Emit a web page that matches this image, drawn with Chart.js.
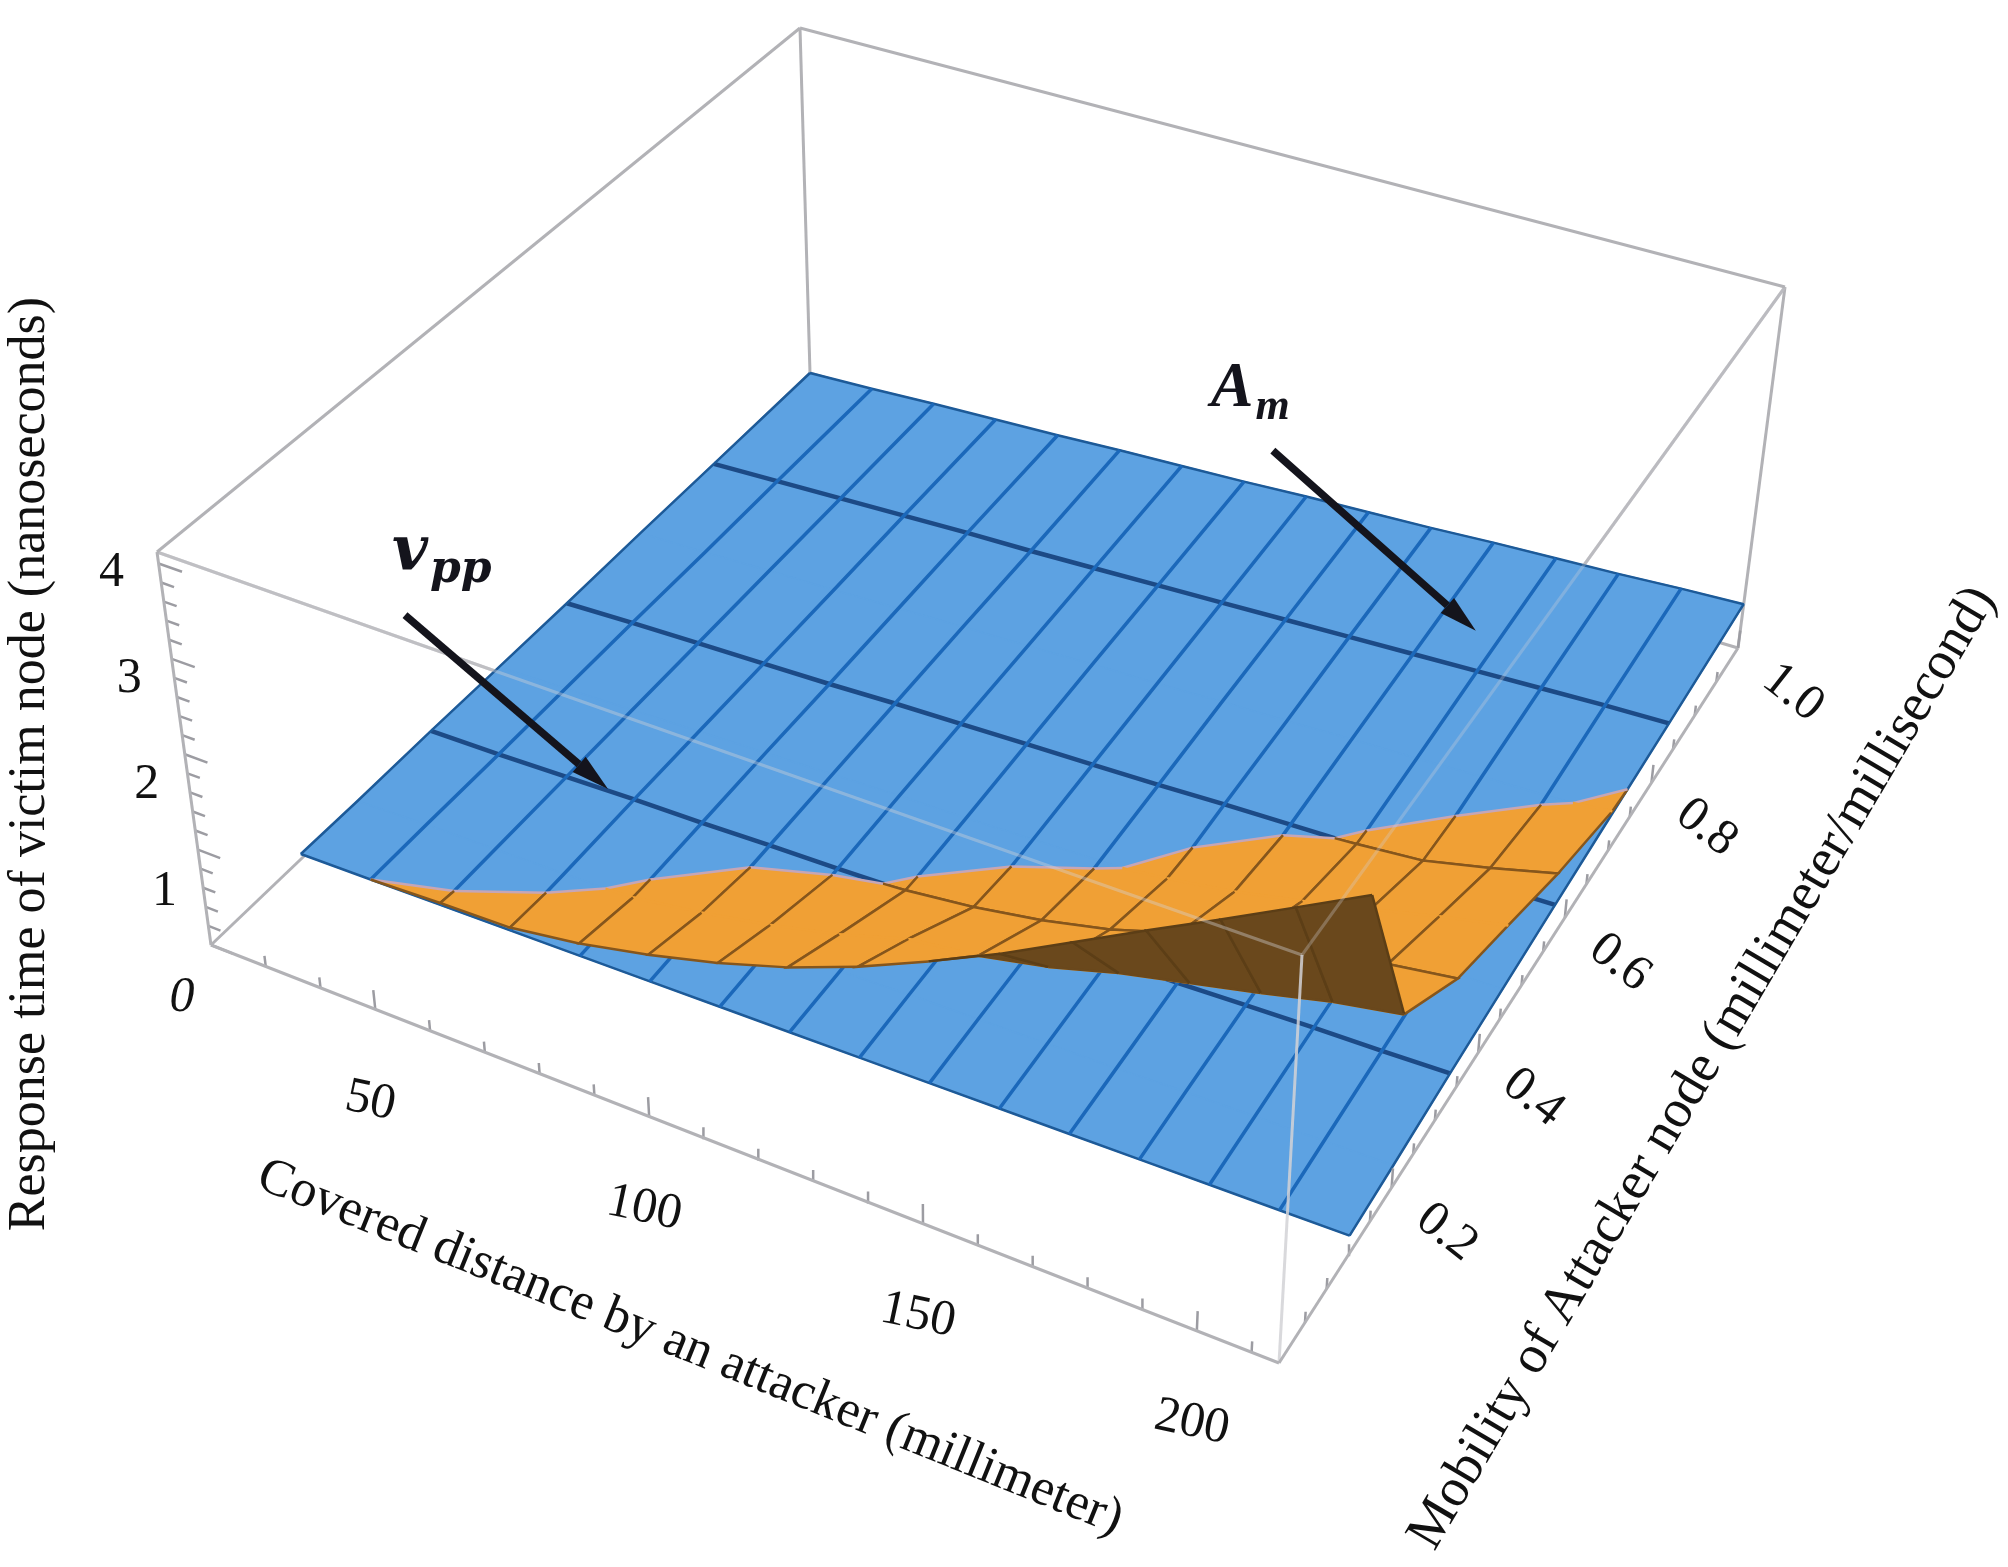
<!DOCTYPE html>
<html>
<head>
<meta charset="utf-8">
<title>Response time of victim node</title>
<script src="https://cdn.jsdelivr.net/npm/chart.js@4.4.1/dist/chart.umd.min.js"></script>
<style>
  html, body { margin: 0; padding: 0; background: #fff; }
  #wrap { position: relative; width: 2008px; height: 1567px; }
</style>
</head>
<body>
<div id="wrap"><canvas id="chart" width="2008" height="1567"></canvas></div>
<script>
// surface grid: covered distance (mm) across, mobility (mm/ms) deep
const distance = [20, 33, 46, 59, 72, 85, 98, 111, 124, 137, 150, 163, 176, 189, 202, 215];
const mobility = [0.1, 0.2, 0.33, 0.45, 0.57, 0.7, 0.83, 1.0];

// v_pp response time (ns), one row per mobility value
const vpp = [
  [0.05, 0.06, 0.07, 0.08, 0.09, 0.10, 0.11, 0.12, 0.13, 0.14, 0.15, 0.16, 0.17, 0.18, 0.19, 0.20],
  [0.04, 0.06, 0.07, 0.08, 0.09, 0.11, 0.12, 0.13, 0.15, 0.16, 0.17, 0.18, 0.20, 0.21, 0.22, 0.23],
  [0.04, 0.05, 0.07, 0.09, 0.10, 0.12, 0.13, 0.15, 0.17, 0.18, 0.20, 0.21, 0.23, 0.25, 0.26, 0.28],
  [0.03, 0.05, 0.07, 0.09, 0.11, 0.13, 0.15, 0.16, 0.18, 0.20, 0.22, 0.24, 0.26, 0.28, 0.30, 0.32],
  [0.02, 0.05, 0.07, 0.09, 0.11, 0.14, 0.16, 0.18, 0.20, 0.22, 0.25, 0.27, 0.29, 0.31, 0.34, 0.36],
  [0.02, 0.04, 0.07, 0.09, 0.12, 0.15, 0.17, 0.20, 0.22, 0.25, 0.27, 0.30, 0.32, 0.35, 0.37, 0.40],
  [0.01, 0.04, 0.07, 0.10, 0.13, 0.15, 0.18, 0.21, 0.24, 0.27, 0.30, 0.33, 0.36, 0.39, 0.42, 0.44],
  [0.00, 0.03, 0.07, 0.10, 0.13, 0.17, 0.20, 0.23, 0.27, 0.30, 0.33, 0.37, 0.40, 0.43, 0.47, 0.50]
];

// A_m response time (ns), null where the sheet is not shown
const am = [
  [null, 0.06, 0.09, 0.11, 0.22, 0.38, 0.57, 0.80, 1.08, 1.41, 1.76, 2.15, 2.54, 2.92, 3.31, 3.70],
  [null, 0.03, 0.01, 0.065, 0.10, 0.21, 0.35, 0.52, 0.74, 0.83, 0.98, 1.18, 1.34, 1.50, 1.67, 1.80],
  [null, null, null, null, 0.07, 0.08, 0.11, 0.16, 0.24, 0.36, 0.52, 0.74, 0.93, 1.08, 1.18, 1.28],
  [null, null, null, null, null, null, null, 0.12, 0.14, 0.18, 0.26, 0.37, 0.52, 0.68, 0.85, 1.00],
  [null, null, null, null, null, null, null, null, null, 0.17, 0.20, 0.25, 0.30, 0.36, 0.52, 0.70],
  [null, null, null, null, null, null, null, null, null, null, null, 0.25, 0.27, 0.31, 0.35, 0.43],
  [null, null, null, null, null, null, null, null, null, null, null, null, null, null, null, 0.36],
  [null, null, null, null, null, null, null, null, null, null, null, null, null, null, null, null]
];

const meshMobility = [0.33, 0.57, 0.83];
const distanceTicks = [50, 100, 150, 200];
const mobilityTicks = [0.2, 0.4, 0.6, 0.8, 1.0];
const timeTicks = [0, 1, 2, 3, 4];

// plot box ranges and where its corners sit on the page (bottom, top)
const box = { x: [20, 215], y: [-0.06, 1.0], z: [0, 4.12] };
const view = {
  L: [[211, 945], [157, 552]],
  F: [[1279, 1363], [1302, 955]],
  R: [[1738, 648], [1785, 287]],
  B: [[810, 373], [800, 28]]
};

const BLUE = '#5da2e2';
const ORANGE = '#f0a035';
const BROWN = '#6a481c';
const EDGE = '#b2b2b6';

function project(x, y, z) {
  const u = (x - box.x[0]) / (box.x[1] - box.x[0]);
  const v = (y - box.y[0]) / (box.y[1] - box.y[0]);
  const w = (z - box.z[0]) / (box.z[1] - box.z[0]);
  const k = [(1 - u) * (1 - v), u * (1 - v), u * v, (1 - u) * v];
  const cs = [view.L, view.F, view.R, view.B];
  let bx = 0, by = 0, tx = 0, ty = 0;
  cs.forEach((c, i) => {
    bx += k[i] * c[0][0]; by += k[i] * c[0][1];
    tx += k[i] * c[1][0]; ty += k[i] * c[1][1];
  });
  return { x: bx + w * (tx - bx), y: by + w * (ty - by) };
}

const datasets = [];
function line(points, color, width, order) {
  datasets.push({ data: points, showLine: true, borderColor: color, borderWidth: width,
    pointRadius: 0, fill: false, tension: 0, order });
}
function poly(points, fillColor, order, edgeColors, width) {
  datasets.push({ data: points.concat([points[0]]), showLine: true, pointRadius: 0,
    fill: false, tension: 0, order, surfaceColor: fillColor, borderColor: fillColor,
    borderWidth: width, segment: { borderColor: c => edgeColors[c.p0DataIndex] } });
}
function area(pts) {
  let s = 0;
  pts.forEach((p, i) => { const q = pts[(i + 1) % pts.length]; s += p.x * q.y - q.x * p.y; });
  return s / 2;
}

// box edges behind the surfaces
const corner = (cx, cy, cz) => project(box.x[cx], box.y[cy], box.z[cz]);
[[[0,1,0],[0,1,1]], [[0,0,0],[0,1,0]], [[0,1,0],[1,1,0]], [[1,1,0],[1,1,1]],
 [[0,0,1],[1,0,1]], [[1,0,1],[1,1,1]]].forEach(([a, b]) =>
  line([corner(...a), corner(...b)], EDGE, 3, 30000));

// v_pp sheet
for (let j = 0; j < mobility.length - 1; j++) {
  for (let i = 0; i < distance.length - 1; i++) {
    const pts = [[i, j], [i + 1, j], [i + 1, j + 1], [i, j + 1]]
      .map(([a, b]) => project(distance[a], mobility[b], vpp[b][a]));
    poly(pts, BLUE, 20000, [BLUE, BLUE, BLUE, BLUE], 1.5);
  }
}
distance.forEach((d, i) => {
  const pts = mobility.map((m, j) => project(d, m, vpp[j][i]));
  const edge = i === 0 || i === distance.length - 1;
  line(pts, edge ? '#1d5a98' : '#1b68ba', edge ? 2.5 : 3.5, 5000);
});
mobility.forEach((m, j) => {
  const pts = distance.map((d, i) => project(d, m, vpp[j][i]));
  if (meshMobility.includes(m)) line(pts, '#1c4a86', 4.5, 5000);
  else if (j === 0 || j === mobility.length - 1) line(pts, '#1d5a98', 2.5, 5000);
});

// A_m sheet, kept only where it rises above v_pp
for (let j = 0; j < mobility.length - 1; j++) {
  for (let i = 0; i < distance.length - 1; i++) {
    const cs = [[i, j], [i + 1, j], [i + 1, j + 1], [i, j + 1]];
    const tags = [{ k: 'y', j }, { k: 'x' }, { k: 'y', j: j + 1 }, { k: 'x' }];
    const ring = [];
    cs.forEach(([a, b], n) => {
      const zo = am[b][a];
      if (zo === null) return;
      ring.push({ x: distance[a], y: mobility[b], z: zo, d: zo - vpp[b][a], n });
    });
    if (ring.length < 3) continue;
    ring.forEach((r, k) => {
      const nx = ring[(k + 1) % ring.length];
      r.tag = (r.n + 1) % 4 === nx.n ? tags[r.n] : { k: 'diag' };
    });
    const out = [];
    ring.forEach((cur, k) => {
      const nxt = ring[(k + 1) % ring.length];
      const cut = () => {
        const t = cur.d / (cur.d - nxt.d);
        return { x: cur.x + t * (nxt.x - cur.x), y: cur.y + t * (nxt.y - cur.y), z: cur.z + t * (nxt.z - cur.z) };
      };
      if (cur.d >= 0 && nxt.d >= 0) out.push({ x: nxt.x, y: nxt.y, z: nxt.z, tagIn: cur.tag });
      else if (cur.d >= 0) out.push(Object.assign(cut(), { tagIn: cur.tag }));
      else if (nxt.d >= 0) {
        out.push(Object.assign(cut(), { tagIn: { k: 'clip' } }));
        out.push({ x: nxt.x, y: nxt.y, z: nxt.z, tagIn: cur.tag });
      }
    });
    if (out.length < 3) continue;
    const pts = out.map(p => project(p.x, p.y, p.z));
    const ground = cs.map(([a, b]) => project(distance[a], mobility[b], 0));
    const a1 = area(pts), a0 = area(ground);
    const under = Math.sign(a1) !== Math.sign(a0) && Math.abs(a1) > 30;
    const fillCol = under ? BROWN : ORANGE;
    const meshCol = under ? '#5c3e16' : '#86561c';
    const edgeCols = out.map((p, k) => {
      const t = out[(k + 1) % out.length].tagIn;
      if (t.k === 'clip') return '#c6a6b6';
      const mesh = t.k === 'x' || t.k === 'diag' ||
        (t.k === 'y' && (t.j === 0 || meshMobility.includes(mobility[t.j])));
      return mesh ? meshCol : fillCol;
    });
    const c = project((distance[i] + distance[i + 1]) / 2, (mobility[j] + mobility[j + 1]) / 2, 0);
    poly(pts, fillCol, 3000 - c.y, edgeCols, 2.5);
  }
}

// box edges in front
[[[0,0,0],[0,0,1]], [[0,0,0],[1,0,0]], [[1,0,0],[1,1,0]], [[0,0,1],[0,1,1]], [[0,1,1],[1,1,1]]]
  .forEach(([a, b]) => line([corner(...a), corner(...b)], EDGE, 3, -100));
line([corner(1,0,0), corner(1,0,1)], 'rgba(210,210,214,0.85)', 3, -100);
line([corner(0,0,1), corner(1,0,1)], 'rgba(210,210,214,0.4)', 3, -100);
line([corner(1,0,1), corner(1,1,1)], 'rgba(210,210,214,0.3)', 3, -100);

// tick marks
const gap = { x: null, y: null };
let tk = [];
for (let d = 30; d <= 210; d += 10) {
  const major = distanceTicks.includes(d);
  tk.push(project(d, box.y[0], 0), project(d, box.y[0], major ? 0.2 : 0.11), gap);
}
line(tk, '#9c9ca2', 2.5, -90);
tk = [];
for (let k = 0; k <= 20; k++) {
  const m = k * 0.05;
  const major = mobilityTicks.some(t => Math.abs(t - m) < 1e-6);
  tk.push(project(box.x[1], m, 0), project(box.x[1], m, major ? 0.2 : 0.11), gap);
}
line(tk, '#9c9ca2', 2.5, -90);
tk = [];
for (let k = 0; k <= 20; k++) {
  const t = k * 0.2;
  const major = k % 5 === 0;
  tk.push(project(box.x[0], box.y[0], t), project(box.x[0] + (major ? 4 : 2.2), box.y[0], t), gap);
}
line(tk, '#9c9ca2', 2.5, -90);

const SERIF = '"Liberation Serif", "Times New Roman", serif';
const notes = [
  { main: 'v', sub: 'pp', at: [54, 0.33, 0.1], tail: [-203, -174], text: [-216, -220],
    font: '"DejaVu Serif", serif', size: [62, 44] },
  { main: 'A', sub: 'm', at: [171, 0.88, 0.37], tail: [-203, -180], text: [-265, -225],
    font: SERIF, size: [64, 44] }
];

const surfaceFill = {
  id: 'surfaceFill',
  beforeDatasetDraw(chart, args) {
    const ds = chart.data.datasets[args.index];
    if (!ds.surfaceColor) return;
    const ctx = chart.ctx;
    ctx.save();
    ctx.beginPath();
    args.meta.data.forEach((p, i) => (i ? ctx.lineTo(p.x, p.y) : ctx.moveTo(p.x, p.y)));
    ctx.closePath();
    ctx.fillStyle = ds.surfaceColor;
    ctx.fill();
    ctx.restore();
  }
};

const labels3d = {
  id: 'labels3d',
  afterDraw(chart) {
    const { ctx, scales: { x: sx, y: sy } } = chart;
    const px = p => ({ x: sx.getPixelForValue(p.x), y: sy.getPixelForValue(p.y) });
    const say = (str, x, y, size, rot, font) => {
      ctx.save();
      ctx.translate(x, y);
      ctx.rotate(rot * Math.PI / 180);
      ctx.font = (font || '') + ' ' + size + 'px ' + SERIF;
      ctx.fillStyle = '#111';
      ctx.textAlign = 'center';
      ctx.textBaseline = 'middle';
      ctx.fillText(str, 0, 0);
      ctx.restore();
    };
    timeTicks.forEach(t => {
      const p = px(project(box.x[0], box.y[0], t));
      say(String(t), p.x - 29 - 4.5 * t, p.y + 53 - 11 * t, 50, 0, t === 0 ? 'italic' : '');
    });
    distanceTicks.forEach(t => {
      const p = px(project(t, box.y[0], 0));
      say(String(t), p.x - 5, p.y + 92, 50, 12);
    });
    mobilityTicks.forEach(t => {
      const p = px(project(box.x[1], t, 0));
      say(t.toFixed(1), p.x + 55, p.y + 45, 50, 38);
    });
    say('Response time of victim node (nanoseconds)', 30, 764, 52, -90);
    say('Covered distance by an attacker (millimeter)', 690, 1348, 52, 22);
    say('Mobility of Attacker node (millimeter/millisecond)', 1703, 1068, 54, -59.5);

    notes.forEach(n => {
      const tip = px(project(...n.at));
      const tail = { x: tip.x + n.tail[0], y: tip.y + n.tail[1] };
      const ang = Math.atan2(tip.y - tail.y, tip.x - tail.x);
      const head = 38, half = 10;
      const base = { x: tip.x - head * Math.cos(ang), y: tip.y - head * Math.sin(ang) };
      ctx.save();
      ctx.strokeStyle = '#14141c';
      ctx.fillStyle = '#14141c';
      ctx.lineWidth = 7.5;
      ctx.beginPath();
      ctx.moveTo(tail.x, tail.y);
      ctx.lineTo(base.x, base.y);
      ctx.stroke();
      ctx.beginPath();
      ctx.moveTo(tip.x, tip.y);
      ctx.lineTo(base.x - half * Math.sin(ang), base.y + half * Math.cos(ang));
      ctx.lineTo(base.x + half * Math.sin(ang), base.y - half * Math.cos(ang));
      ctx.closePath();
      ctx.fill();
      const tx = tip.x + n.text[0], ty = tip.y + n.text[1];
      ctx.textAlign = 'left';
      ctx.textBaseline = 'alphabetic';
      ctx.font = 'italic bold ' + n.size[0] + 'px ' + n.font;
      ctx.fillText(n.main, tx, ty);
      const w = ctx.measureText(n.main).width;
      ctx.font = 'italic bold ' + n.size[1] + 'px ' + n.font;
      ctx.fillText(n.sub, tx + w + 2, ty + 13);
      ctx.restore();
    });
  }
};

new Chart(document.getElementById('chart'), {
  type: 'scatter',
  data: { datasets },
  options: {
    responsive: false,
    devicePixelRatio: 1,
    animation: false,
    events: [],
    layout: { padding: 0 },
    scales: {
      x: { type: 'linear', min: 0, max: 2008, display: false },
      y: { type: 'linear', min: 0, max: 1567, reverse: true, display: false }
    },
    plugins: { legend: { display: false }, tooltip: { enabled: false } }
  },
  plugins: [surfaceFill, labels3d]
});
</script>
</body>
</html>
